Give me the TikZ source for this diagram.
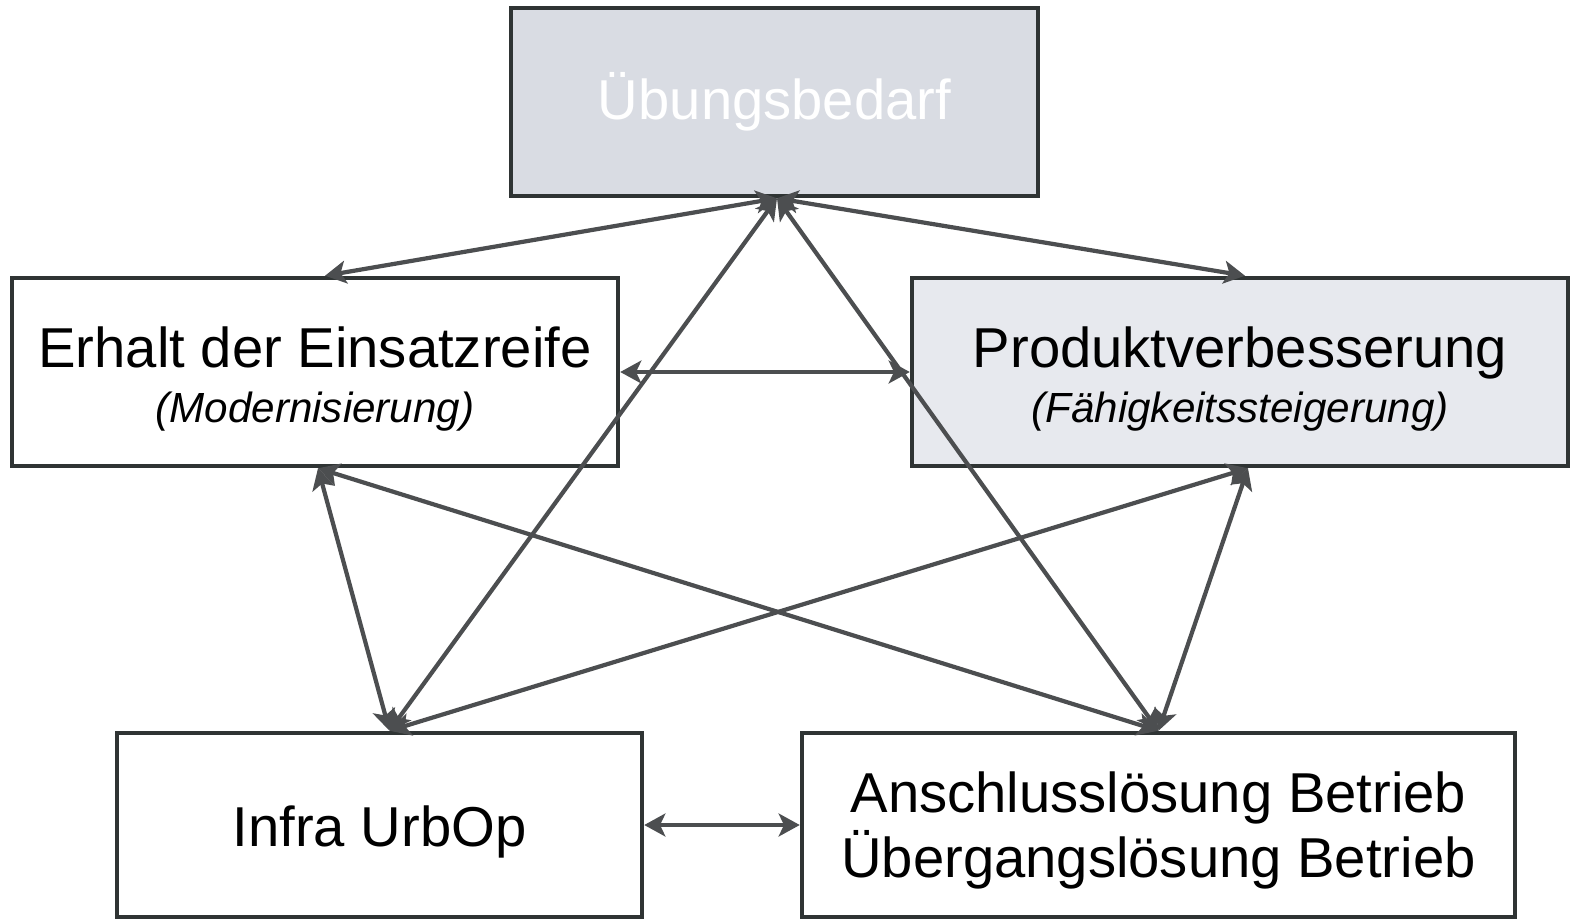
\documentclass[tikz,border=0pt]{standalone}
\usepackage{fontspec}
\setmainfont{Liberation Sans}
\usetikzlibrary{arrows.meta}
\definecolor{boxline}{HTML}{2F3434}
\definecolor{arrowgray}{HTML}{4C4E50}
\definecolor{topfill}{HTML}{D9DCE3}
\definecolor{rightfill}{HTML}{E7E9EE}
\begin{document}
\begin{tikzpicture}[x=0.02cm,y=-0.02cm,
    box/.style={draw=boxline, line width=2.6pt, inner sep=0pt, align=center,
        font=\fontsize{32}{37}\selectfont},
    link/.style={draw=arrowgray, line width=2.4pt,
        {Stealth[length=12pt,width=13pt,inset=3pt]}-{Stealth[length=12pt,width=13pt,inset=3pt]}}]
    \useasboundingbox (0,0) rectangle (1570,920);

    \node[box, fill=topfill, text=white, minimum width=10.54cm, minimum height=3.76cm] (need) at (774.5,102) {Übungsbedarf};
    \node[box, fill=white, minimum width=12.12cm, minimum height=3.76cm,
        text height=65pt, text depth=8pt] (keep) at (315,372)
        {Erhalt der Einsatzreife\\[-6pt] {\fontsize{24}{30}\selectfont\itshape (Modernisierung)}};
    \node[box, fill=rightfill, minimum width=13.12cm, minimum height=3.76cm,
        text height=65pt, text depth=8pt] (prod) at (1240,372)
        {Produktverbesserung\\[-6pt] {\fontsize{24}{30}\selectfont\itshape (Fähigkeitssteigerung)}};
    \node[box, fill=white, minimum width=10.5cm, minimum height=3.68cm,
        text height=30pt, text depth=5pt] (infra) at (379.5,825) {Infra UrbOp};
    \node[box, fill=white, minimum width=14.26cm, minimum height=3.68cm,
        text height=68pt, text depth=7.8pt] (ops) at (1158.5,825)
        {Anschlusslösung Betrieb\\Übergangslösung Betrieb};

    % links from the top box
    \draw[link] ([xshift=0.05cm]need.south) -- ([xshift=0.2cm]keep.north);
    \draw[link] ([xshift=0.05cm]need.south) -- ([xshift=0.1cm]prod.north);
    \draw[link] ([xshift=0.05cm]need.south) -- ([xshift=0.2cm]infra.north);
    \draw[link] ([xshift=0.05cm]need.south) -- (ops.north);

    % links between the middle and bottom boxes
    \draw[link] (keep.east) -- (prod.west);
    \draw[link] ([xshift=0.06cm]keep.south) -- ([xshift=0.2cm]infra.north);
    \draw[link] ([xshift=0.06cm]keep.south) -- (ops.north);
    \draw[link] ([xshift=0.16cm]prod.south) -- ([xshift=0.2cm]infra.north);
    \draw[link] ([xshift=0.16cm]prod.south) -- (ops.north);
    \draw[link] (infra.east) -- (ops.west);
\end{tikzpicture}
\end{document}
